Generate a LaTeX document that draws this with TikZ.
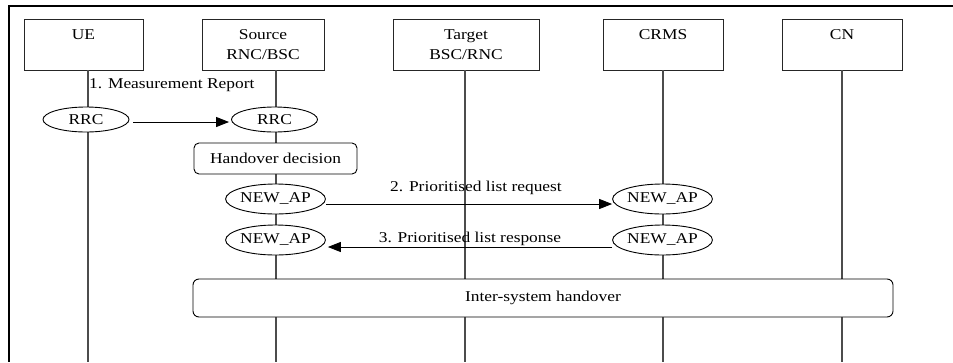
\documentclass[tikz,border=0pt]{standalone}
\usepackage{fontspec}
\setmainfont[FakeStretch=1.16]{Liberation Serif}
\usetikzlibrary{arrows.meta,shapes.geometric}
\begin{document}
\begin{tikzpicture}[x=1pt,y=-1pt,
  every node/.style={font=\fontsize{15}{19.5}\selectfont},
  entity/.style={draw=black!85,line width=0.9pt,fill=white,minimum width=120pt,minimum height=51pt,inner sep=0pt,align=center},
  life/.style={draw=black!70,line width=1.1pt},
  proto/.style={draw=black,line width=0.9pt,fill=white,ellipse,inner sep=0pt,minimum width=88pt,minimum height=30pt},
  rrc/.style={proto,minimum width=86pt,minimum height=25pt},
  action/.style={draw=black,line width=0.9pt,fill=white,rounded corners=5pt,inner sep=0pt},
  msg/.style={draw=black,line width=0.9pt,-{Triangle[length=13pt,width=10pt]}},
  lbl/.style={inner sep=0pt}]
\useasboundingbox (0,0) rectangle (953,362);
\draw[line width=2pt] (953,5.5) -- (8.5,5.5) -- (8.5,362);
% entities
\node[entity,minimum width=119pt] (ue) at (83.5,44.5) {UE\\\mbox{}};
\node[entity,minimum width=122pt] (src) at (263,44.5) {Source\\RNC/BSC};
\node[entity,minimum width=146pt] (tgt) at (466,44.5) {Target\\BSC/RNC};
\node[entity,minimum width=120pt] (crms) at (663,44.5) {CRMS\\\mbox{}};
\node[entity,minimum width=120pt] (cn) at (842,44.5) {CN\\\mbox{}};
% lifelines
\coordinate (uel) at (88,70);
\coordinate (srcl) at (276,70);
\coordinate (tgtl) at (465,70);
\coordinate (crmsl) at (663,70);
\coordinate (cnl) at (842,70);
\coordinate (ueb) at (88,362);
\coordinate (srcb) at (276,362);
\coordinate (tgtb) at (465,362);
\coordinate (crmsb) at (663,362);
\coordinate (cnb) at (842,362);
\draw[life] (uel) -- (ueb);
\draw[life] (srcl) -- (srcb);
\draw[life] (tgtl) -- (tgtb);
\draw[life] (crmsl) -- (crmsb);
\draw[life] (cnl) -- (cnb);
% message 1
\node[lbl,anchor=west] (m1) at (89,85) {1. Measurement Report};
\node[rrc] (rrc1) at (86,119.5) {RRC};
\node[rrc] (rrc2) at (274.5,119.5) {RRC};
\draw[msg,shorten <=4pt,shorten >=2pt] ([yshift=-2.5pt]rrc1.east) -- ([yshift=-2.5pt]rrc2.west);
% handover decision
\node[action,minimum width=163pt,minimum height=31pt] (hd) at (275.5,158.5) {Handover decision};
% message 2
\node[proto] (ap1) at (275.5,199) {NEW\_AP};
\node[proto] (ap2) at (662.5,199) {NEW\_AP};
\draw[msg] ([yshift=-5pt]ap1.east) -- node[lbl,above=9pt,xshift=7pt] (m2) {2. Prioritised list request} ([yshift=-5pt]ap2.west);
% message 3
\node[proto] (ap3) at (275.5,240) {NEW\_AP};
\node[proto] (ap4) at (662.5,240) {NEW\_AP};
\draw[msg,shorten >=2pt] ([yshift=-7pt]ap4.west) -- node[lbl,above=0.5pt,xshift=1pt] (m3) {3. Prioritised list response} ([yshift=-7pt]ap3.east);
% inter-system handover
\node[action,rounded corners=6pt,minimum width=700pt,minimum height=38pt] (ish) at (543,298) {Inter-system handover};
\end{tikzpicture}
\end{document}
